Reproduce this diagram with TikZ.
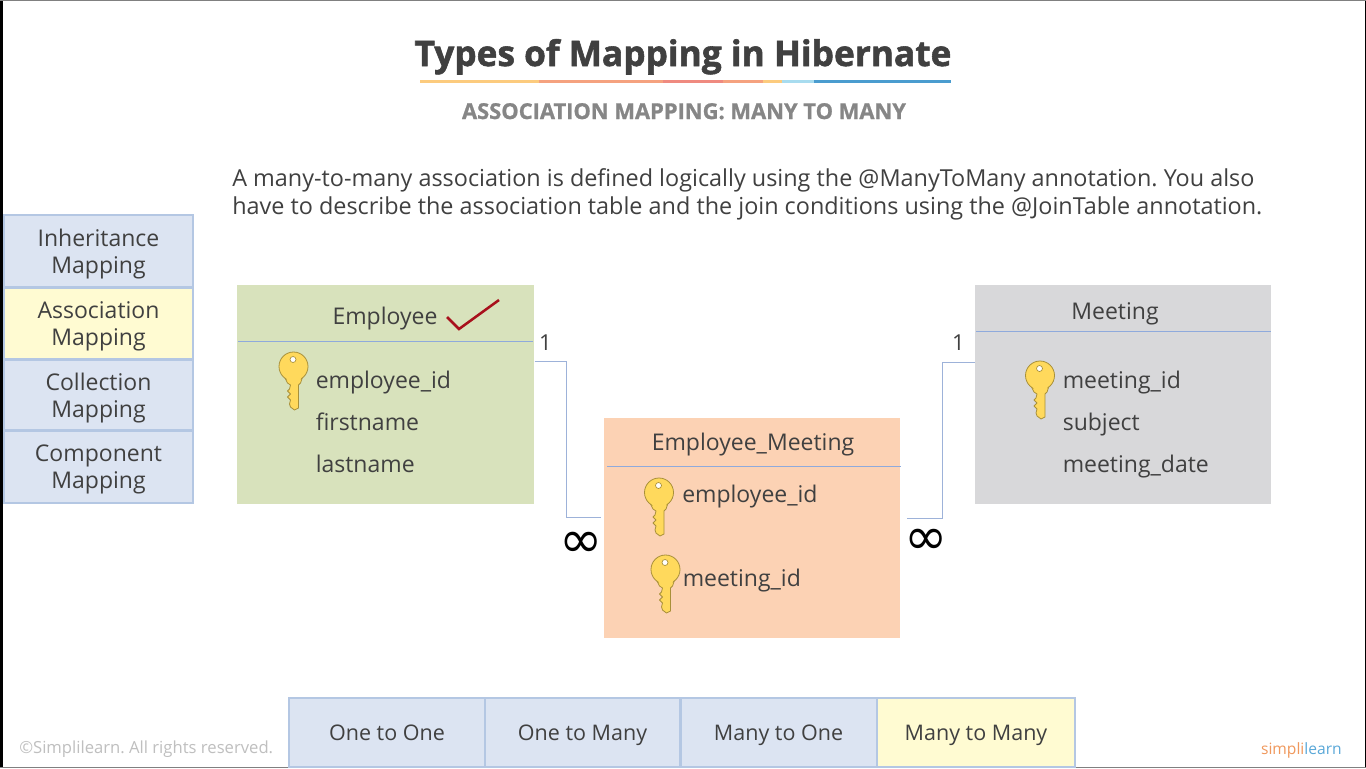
\documentclass[tikz,border=0pt]{standalone}
\usepackage{fontspec}
\setmainfont{Open Sans}
\newfontfamily\symf{DejaVu Sans}
\newfontfamily\heavyf[BoldFeatures={FakeBold=1.6}]{Open Sans}
\newfontfamily\semiheavyf[BoldFeatures={FakeBold=1.0}]{Open Sans}
\frenchspacing
\definecolor{txt}{HTML}{404040}
\definecolor{tabfill}{HTML}{DCE4F2}
\definecolor{tabedge}{HTML}{B4C7E3}
\definecolor{tabsel}{HTML}{FFFBD2}
\definecolor{conn}{HTML}{9DB2D9}
\definecolor{rulec}{HTML}{8FAADC}
\definecolor{ga}{HTML}{FCCB7E}
\definecolor{gb}{HTML}{F5A27F}
\definecolor{gc}{HTML}{EF8A80}
\definecolor{gd}{HTML}{A8DCEF}
\definecolor{ge}{HTML}{4A9CCF}
\definecolor{empfill}{HTML}{D8E2BC}
\definecolor{meefill}{HTML}{D8D8DA}
\definecolor{junfill}{HTML}{FCD2B4}
\definecolor{tick}{HTML}{A8101C}
\definecolor{keygold}{HTML}{FFD95C}
\definecolor{keyedge}{HTML}{A8903A}
\definecolor{logoa}{HTML}{F0985C}
\definecolor{logob}{HTML}{5AA8D8}
\newcommand{\px}[1]{\fontsize{\dimexpr#1pt*3/4\relax}{\dimexpr#1pt*15/16\relax}\selectfont}
\newcommand{\keyicon}[1]{%
\begin{scope}[shift={#1}]
\path[keypart] (-9,25) -- (-6,31) -- (-3,33) -- (-4,37) -- (-6,39) -- (-3,42) -- (-6,45) -- (-3,48) -- (-4,52) -- (-3,55) -- (1,58) -- (5,56) -- (5,33) -- (7,31) -- (9,25) -- cycle;
\path[keypart] (0,14.5) circle [radius=14.5];
\fill[keygold] (-8,24) -- (8,24) -- (6.5,30) -- (4.4,32) -- (-2.4,32) -- (-5.5,30) -- cycle;
\path[draw=keyedge,line width=.5pt,fill=white] (-0.5,7.5) circle [radius=3];
\end{scope}}
\tikzset{
  keypart/.style={fill=keygold,draw=keyedge,line width=.6pt,line join=round},
  tabbox/.style={draw=tabedge,fill=tabfill,line width=1.5pt,inner sep=0pt,align=center,text=txt,font=\px{23},text depth=0pt},
  bottomtab/.style={tabbox,font=\px{21.5},minimum height=52pt},
  sidetab/.style={tabbox,minimum width=142pt},
  tbl/.style={inner sep=0pt,anchor=north west},
  field/.style={inner sep=0pt,anchor=base west,text=txt,font=\px{23}},
  head/.style={inner sep=0pt,anchor=base,text=txt,font=\px{23}},
  rule/.style={draw=rulec,line width=.7pt},
  connector/.style={draw=conn,line width=.75pt},
  card/.style={inner sep=0pt,text=txt,font=\px{22}},
  many/.style={inner sep=0pt,text=black,font=\symf\px{52}},
  prose/.style={inner sep=0pt,anchor=base west,text=txt,font=\px{23.4}},
}
\begin{document}
\begin{tikzpicture}[x=.75pt,y=-.75pt]
\useasboundingbox (0,0) rectangle (1366,768);
\fill[white] (0,0) rectangle (1366,768);
% frame edges
\fill[black] (0,0) rectangle (3,768);
\fill[black] (1365,0) rectangle (1366,768);
\fill[gray] (0,0) rectangle (1366,1);
\fill[gray] (0,767) rectangle (1366,768);
% title
\node[inner sep=0pt,anchor=base,text=txt,font=\heavyf\bfseries\px{35.25}] (title) at (683,66) {Types of Mapping in Hibernate};
\fill[ga] (420,80) rectangle (539,82.5);
\fill[gb] (539,80) rectangle (663,82.5);
\fill[gc] (663,80) rectangle (723,82.5);
\fill[gb] (723,80) rectangle (763,82.5);
\fill[ga] (763,80) rectangle (782,82.5);
\fill[gd] (782,80) rectangle (814,82.5);
\fill[ge] (814,80) rectangle (951,82.5);
\node[inner sep=0pt,anchor=base,text=gray!95,font=\semiheavyf\bfseries\px{21.9}] (subtitle) at (684,119) {ASSOCIATION MAPPING: MANY TO MANY};
% description
\node[prose] (desc1) at (232,186) {A many-to-many association is defined logically using the @ManyToMany annotation. You also};
\node[prose] (desc2) at (232,214) {have to describe the association table and the join conditions using the @JoinTable annotation.};
% side tabs
\node[sidetab,minimum height=54pt] (s1) at (98.5,251) {Inheritance\\[-1.1pt]Mapping};
\node[sidetab,fill=tabsel,minimum height=53pt] (s2) at (98.5,323.5) {Association\\[-1.1pt]Mapping};
\node[sidetab,minimum height=53pt] (s3) at (98.5,395) {Collection\\[-1.1pt]Mapping};
\node[sidetab,minimum height=54pt] (s4) at (98.5,467) {Component\\[-1.1pt]Mapping};
% tables
\node[tbl,minimum width=222.75pt,minimum height=164.25pt,fill=empfill] (emp) at (237,285) {};
\node[tbl,minimum width=222pt,minimum height=164.25pt,fill=meefill] (mee) at (975,285) {};
\node[tbl,minimum width=222pt,minimum height=165pt,fill=junfill] (jun) at (604,418) {};
\draw[rule] (238,341) -- (533,341);
\draw[rule] (976,331) -- (1271,331);
\draw[rule] (607,466.5) -- (901,466.5);
% employee
\node[head] (empt) at (385,324) {Employee};
\draw[draw=tick,line width=1.9pt] (447,317) -- (459,329) -- (499,300);
\keyicon{(293.5,352)}
\node[field] (e1) at (315.5,388) {employee\_id};
\node[field] (e2) at (315.5,430) {firstname};
\node[field] (e3) at (315.5,472) {lastname};
% meeting
\node[head] (meet) at (1115,319) {Meeting};
\keyicon{(1040,361)}
\node[field] (m1) at (1062.5,388) {meeting\_id};
\node[field] (m2) at (1062.5,430) {subject};
\node[field] (m3) at (1062.5,472) {meeting\_date};
% join table
\node[head] (junt) at (753,450) {Employee\_Meeting};
\keyicon{(659,478)}
\node[field] (j1) at (682,502) {employee\_id};
\keyicon{(665.5,555)}
\node[field] (j2) at (682.5,586) {meeting\_id};
% connectors
\coordinate (c1) at (601,517);
\coordinate (c2) at (907,518);
\draw[connector] (emp.east |- 0,361) -- (566,361) -- (566,517) -- (c1);
\draw[connector] (mee.west |- 0,362) -- (942,362) -- (942,518) -- (c2);
\node[card] (one1) at (545.5,343) {1};
\node[card] (one2) at (958.5,343) {1};
\node[many] (inf1) at (581,545) {∞};
\node[many] (inf2) at (926,542) {∞};
% bottom tabs
\node[bottomtab,minimum width=147pt] (b1) at (387,732.5) {One to One};
\node[bottomtab,minimum width=146pt] (b2) at (582.5,732.5) {One to Many};
\node[bottomtab,minimum width=147pt] (b3) at (778.5,732.5) {Many to One};
\node[bottomtab,fill=tabsel,minimum width=148pt] (b4) at (976,732.5) {Many to Many};
% footer
\node[inner sep=0pt,anchor=base west,text=black!25,font=\px{16.65}] (copy) at (19,753) {©Simplilearn. All rights reserved.};
\node[inner sep=0pt,anchor=base east,font=\px{15.6}] (logo) at (1342,754) {\textcolor{logoa}{simpli}\textcolor{logob}{learn}};
\end{tikzpicture}
\end{document}
